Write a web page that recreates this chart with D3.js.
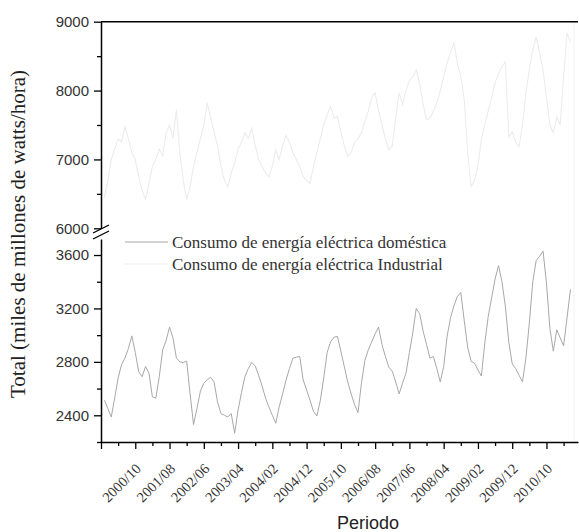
<!DOCTYPE html>
<html lang="es">
<head>
<meta charset="UTF-8">
<title>Consumo de energía eléctrica</title>
<script src="https://d3js.org/d3.v7.min.js"></script>
<style>
    body { margin: 0; background: #fff; }
    .tick text { fill: #333; }
</style>
</head>
<body>
<script>
    const w = 579;
    const h = 532;

    // monthly values, 2000/01 .. 2011/05
    const domestica = [
        2513, 2450, 2387, 2530, 2680, 2780, 2830, 2900, 2995, 2870, 2727, 2689,
        2765, 2715, 2538, 2528, 2689, 2890, 2960, 3060, 2980, 2830, 2800, 2795,
        2805, 2560, 2330, 2450, 2580, 2640, 2665, 2685, 2650, 2500, 2413, 2400,
        2387, 2413, 2266, 2438, 2570, 2689, 2750, 2795, 2770, 2700, 2620, 2530,
        2463, 2400, 2340, 2463, 2560, 2664, 2750, 2828, 2835, 2840, 2664, 2590,
        2513, 2430, 2395, 2510, 2680, 2870, 2950, 2985, 2990, 2880, 2765, 2650,
        2560, 2480, 2420, 2640, 2810, 2890, 2950, 3010, 3060, 2930, 2840, 2760,
        2730, 2650, 2560, 2640, 2715, 2870, 3020, 3200, 3160, 3030, 2930, 2828,
        2840, 2750, 2650, 2765, 2990, 3130, 3220, 3290, 3320, 3110, 2910, 2805,
        2790, 2740, 2694, 2940, 3140, 3280, 3420, 3520, 3400, 3217, 2950, 2785,
        2750, 2700, 2651, 2830, 3090, 3400, 3560, 3590, 3630, 3390, 3050, 2880,
        3040, 2980, 2920, 3130, 3343
    ];

    const industrial = [
        6450, 6700, 7000, 7150, 7300, 7250, 7470, 7300, 7100, 7000, 6750, 6550,
        6420, 6650, 6900, 7000, 7150, 7050, 7386, 7500, 7300, 7720, 7100, 6700,
        6420, 6600, 6900, 7100, 7300, 7500, 7820, 7600, 7400, 7200, 6900, 6700,
        6600, 6800, 6950, 7150, 7250, 7386, 7300, 7450, 7200, 7000, 6900, 6800,
        6750, 6900, 7140, 7000, 7200, 7350, 7250, 7100, 7000, 6900, 6750, 6700,
        6650, 6900, 7100, 7300, 7500, 7650, 7770, 7600, 7623, 7400, 7200, 7043,
        7100, 7250, 7300, 7386, 7550, 7700, 7900, 7967, 7700, 7500, 7300, 7140,
        7200, 7600, 7967, 7800, 8000, 8150, 8200, 8300, 8100, 7800, 7575, 7600,
        7700, 7820, 8000, 8200, 8400, 8550, 8690, 8400, 8200, 7865, 7100, 6604,
        6700, 6900, 7285, 7500, 7700, 7900, 8112, 8250, 8350, 8416, 7330, 7400,
        7250, 7185, 7500, 7967, 8300, 8600, 8778, 8546, 8300, 7900, 7500, 7386,
        7620, 7500, 8200, 8836, 8700
    ];

    const tickLabels = ["2000/10", "2001/08", "2002/06", "2003/04", "2004/02", "2004/12",
        "2005/10", "2006/08", "2007/06", "2008/04", "2009/02", "2009/12", "2010/10"];
    // month index of each label (2000/01 = 0)
    const tickIndex = tickLabels.map(s => (+s.slice(0, 4) - 2000) * 12 + (+s.slice(5)) - 1);

    const topTicks = [6000, 7000, 8000, 9000];
    const topMinor = [6500, 7500, 8500];
    const botTicks = [2400, 2800, 3200, 3600];
    const botMinor = [2200, 2600, 3000, 3400];

    const legendItems = [
        { label: "Consumo de energía eléctrica doméstica", color: "#a8a8a8" },
        { label: "Consumo de energía eléctrica Industrial", color: "#ececec" }
    ];

    const svg = d3.select("body").append("svg")
        .attr("width", w)
        .attr("height", h)
        .style("font-family", "'Liberation Sans', Arial, sans-serif");

    const x = d3.scaleLinear().domain([-1, 138.2]).range([101, 578]);
    const yTop = d3.scaleLinear().domain([6000, 9000]).range([228.3, 21.7]);
    const yBot = d3.scaleLinear().domain([2200, 3720]).range([442, 239]);

    // series
    svg.append("path")
        .datum(industrial)
        .attr("fill", "none")
        .attr("stroke", legendItems[1].color)
        .attr("stroke-width", 1.1)
        .attr("d", d3.line().x((d, i) => x(i)).y(d => yTop(d)));

    svg.append("path")
        .datum(domestica)
        .attr("fill", "none")
        .attr("stroke", legendItems[0].color)
        .attr("stroke-width", 1)
        .attr("d", d3.line().x((d, i) => x(i)).y(d => yBot(d)));

    // faint right frame
    svg.append("line")
        .attr("x1", 574).attr("x2", 574)
        .attr("y1", yTop(9000)).attr("y2", yBot(2200))
        .attr("stroke", "#f2f2f2");

    const fmt = d3.format("d");

    // left axis, upper part
    const gTop = svg.append("g").attr("transform", "translate(101,0)");
    gTop.call(d3.axisLeft(yTop).tickValues(topTicks).tickFormat(fmt).tickSize(7).tickSizeOuter(0).tickPadding(5));
    gTop.append("g").call(d3.axisLeft(yTop).tickValues(topMinor).tickSize(4).tickFormat(""))
        .select(".domain").remove();

    // left axis, lower part
    const gBot = svg.append("g").attr("transform", "translate(101,0)");
    gBot.call(d3.axisLeft(yBot).tickValues(botTicks).tickFormat(fmt).tickSize(7).tickSizeOuter(0).tickPadding(5));
    gBot.append("g").call(d3.axisLeft(yBot).tickValues(botMinor).tickSize(4).tickFormat(""))
        .select(".domain").remove();

    [gTop, gBot].forEach(g => {
        g.selectAll(".domain").attr("stroke", "#000").attr("stroke-width", 1.5);
        g.selectAll(".tick line").attr("stroke", "#000").attr("stroke-width", 1.3);
        g.selectAll(".tick text").style("font-size", "15px");
    });

    // axis break marks
    [0, 6].forEach(off => {
        svg.append("line")
            .attr("x1", 93).attr("y1", 233 + off)
            .attr("x2", 109).attr("y2", 225 + off)
            .attr("stroke", "#000").attr("stroke-width", 1.3);
    });

    // top frame
    svg.append("line")
        .attr("x1", 101).attr("x2", 578)
        .attr("y1", yTop(9000)).attr("y2", yTop(9000))
        .attr("stroke", "#000").attr("stroke-width", 1.5);

    // bottom axis
    const majorX = d3.range(-1, 139, 10);
    const minorX = d3.range(4, 139, 10);
    const gx = svg.append("g").attr("transform", "translate(0," + yBot(2200) + ")");
    gx.call(d3.axisBottom(x).tickValues(majorX).tickSize(7).tickSizeOuter(0).tickFormat(""));
    gx.append("g").call(d3.axisBottom(x).tickValues(minorX).tickSize(4).tickFormat(""))
        .select(".domain").remove();
    gx.selectAll(".domain").attr("stroke", "#000").attr("stroke-width", 1.5);
    gx.selectAll(".tick line").attr("stroke", "#000").attr("stroke-width", 1.3);

    gx.selectAll("text.xlab")
        .data(tickLabels)
        .enter()
        .append("text")
        .attr("class", "xlab")
        .attr("transform", (d, i) => "translate(" + (x(tickIndex[i]) + 3) + ",24) rotate(-45)")
        .attr("text-anchor", "end")
        .attr("dy", "0.35em")
        .style("font-family", "'Liberation Serif', 'Times New Roman', serif")
        .style("font-size", "14.5px")
        .attr("fill", "#333")
        .text(d => d);

    // axis titles
    svg.append("text")
        .attr("x", 368)
        .attr("y", 529)
        .attr("text-anchor", "middle")
        .style("font-size", "18px")
        .attr("fill", "#222")
        .text("Periodo");

    svg.append("text")
        .attr("transform", "translate(25,234) rotate(-90)")
        .attr("text-anchor", "middle")
        .style("font-family", "'Liberation Serif', 'Times New Roman', serif")
        .style("font-size", "21px")
        .attr("fill", "#222")
        .text("Total (miles de millones de watts/hora)");

    // legend
    const legend = svg.append("g").attr("transform", "translate(125,242)");
    legend.selectAll("line")
        .data(legendItems)
        .enter()
        .append("line")
        .attr("x1", 0).attr("x2", 43)
        .attr("y1", (d, i) => i * 22).attr("y2", (d, i) => i * 22)
        .attr("stroke", d => d.color)
        .attr("stroke-width", 1.2);
    legend.selectAll("text")
        .data(legendItems)
        .enter()
        .append("text")
        .attr("x", 47)
        .attr("y", (d, i) => i * 22 + 6)
        .style("font-family", "'Liberation Serif', 'Times New Roman', serif")
        .style("font-size", "17px")
        .attr("fill", "#333")
        .text(d => d.label);
</script>
</body>
</html>
